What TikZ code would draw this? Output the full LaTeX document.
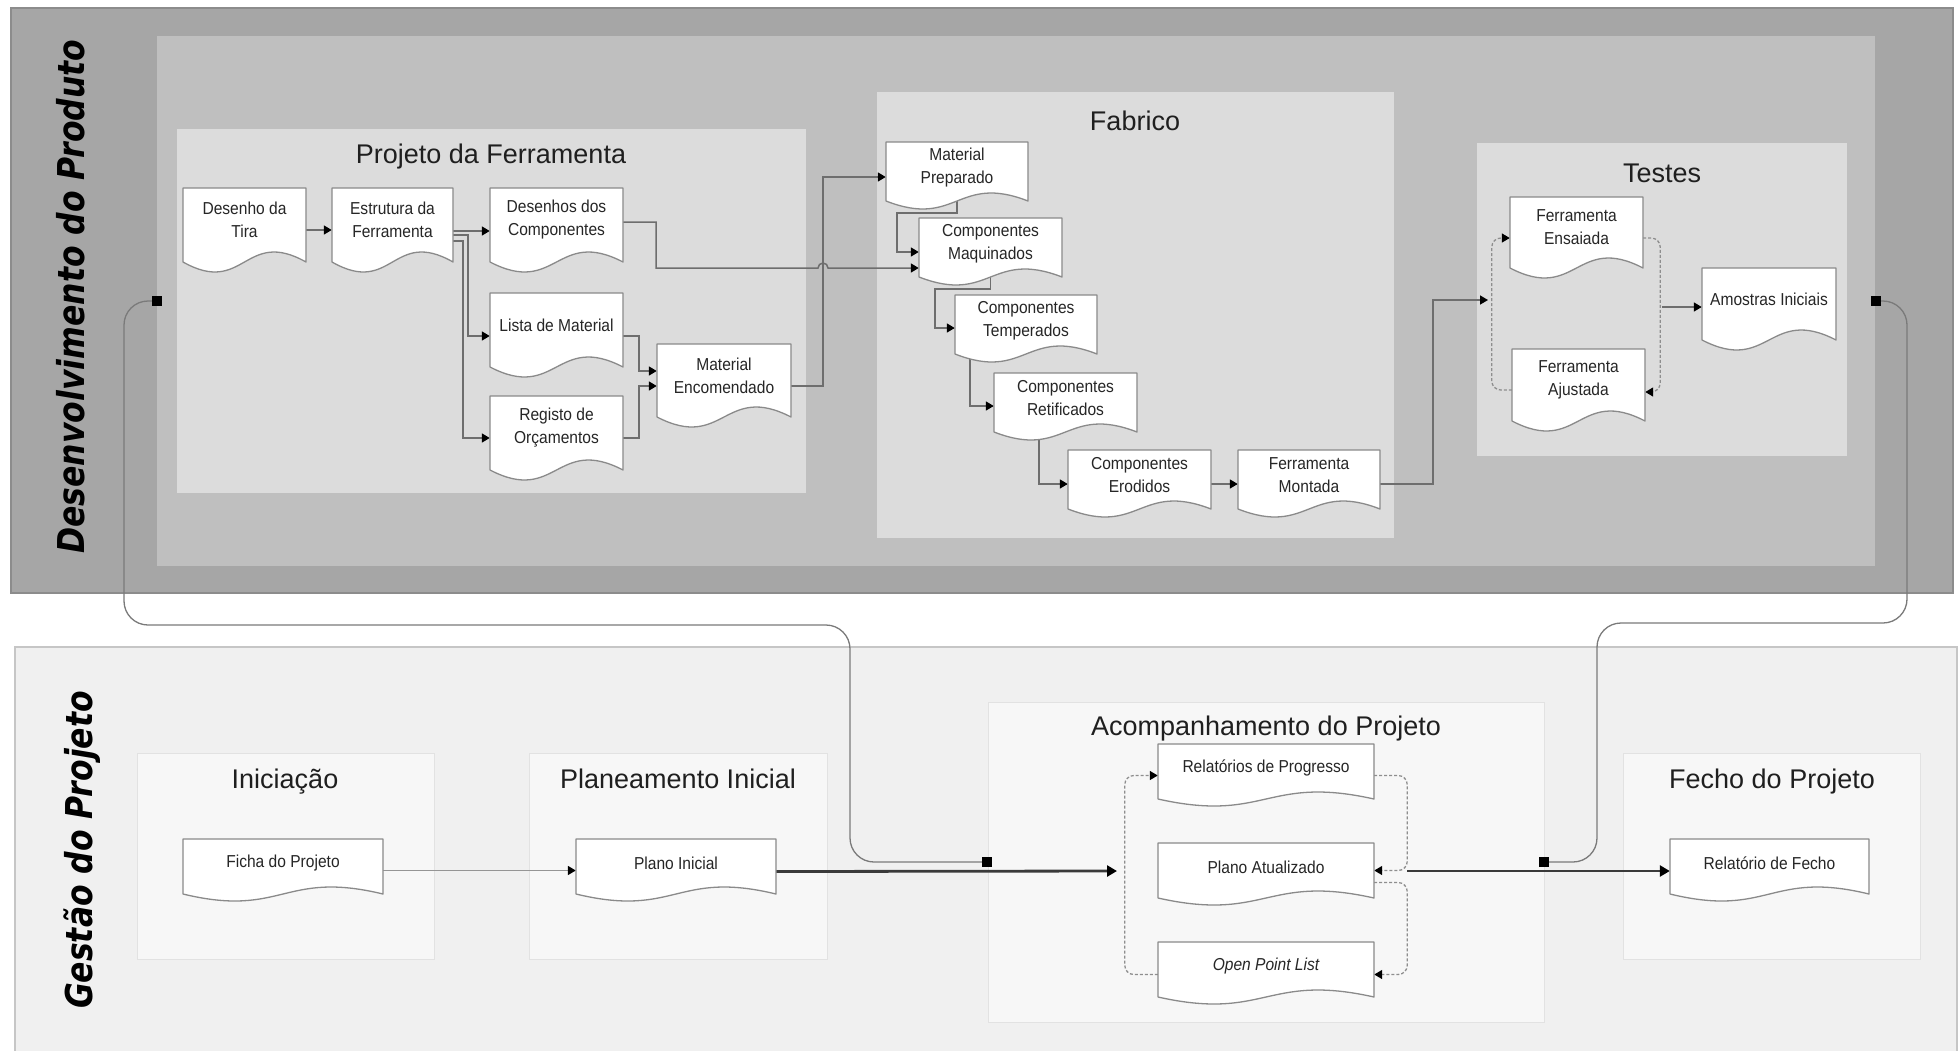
\documentclass[tikz,border=0pt]{standalone}
\usepackage{fontspec}
\setmainfont{Liberation Sans}
\newfontfamily\docfont[FakeStretch=0.9]{Liberation Sans}
\newfontfamily\lanefont[FakeStretch=0.85]{DejaVu Sans}
\usetikzlibrary{arrows.meta,calc}

\pgfdeclarelayer{bg}
\pgfdeclarelayer{conn}
\pgfsetlayers{bg,conn,main}

\definecolor{laneDark}{HTML}{A6A6A6}
\definecolor{laneDarkBorder}{HTML}{8C8C8C}
\definecolor{laneMid}{HTML}{BFBFBF}
\definecolor{groupFill}{HTML}{DCDCDC}
\definecolor{laneLight}{HTML}{F0F0F0}
\definecolor{laneLightBorder}{HTML}{C6C6C6}
\definecolor{phaseFill}{HTML}{F7F7F7}
\definecolor{phaseBorder}{HTML}{E2E2E2}
\definecolor{docBorder}{HTML}{8A8A8A}
\definecolor{connGray}{HTML}{6E6E6E}
\definecolor{dashGray}{HTML}{8E8E8E}
\definecolor{linkGray}{HTML}{7A7A7A}
\definecolor{thickGray}{HTML}{3A3A3A}

\tikzset{
  tip/.style={-{Triangle[length=8pt,width=9pt,color=black]}},
  bigtip/.style={-{Triangle[length=10pt,width=11pt,color=black]}},
  doctext/.style={inner sep=0pt, align=center, text=black!85,
    font=\docfont\fontsize{17.3}{23}\selectfont},
  docline/.style={draw=docBorder, line width=1.3pt, fill=white, line join=round},
  flow/.style={draw=connGray, line width=1.5pt, tip},
  thinflow/.style={draw=linkGray!80, line width=1.6pt, tip},
  thickflow/.style={draw=thickGray, line width=2.8pt, bigtip},
  cycleflow/.style={draw=dashGray, line width=1.3pt, dash pattern=on 3pt off 2pt,
    rounded corners=9pt, tip},
  link/.style={draw=linkGray, line width=1.3pt},
  title/.style={anchor=base, inner sep=0pt, text=black!88,
    font=\fontsize{27}{32}\selectfont},
  lanelabel/.style={rotate=90, anchor=base, inner sep=0pt, text=black,
    font=\lanefont\fontsize{37}{40}\selectfont\bfseries\itshape},
  marker/.style={fill=black, draw=none, minimum size=10pt, inner sep=0pt},
}

% document symbol: name, left, top, width, side height, wave amplitude, text
\newcommand\docshape[7]{%
  \draw[docline] (#2,#3) -- ({#2+#4},#3) -- ({#2+#4},{#3+#5})
    .. controls ({#2+0.5*#4},{#3+#5-3.46*#6}) and ({#2+0.5*#4},{#3+#5+3.46*#6})
    .. (#2,{#3+#5}) -- cycle;
  \node[doctext, minimum width=#4pt, minimum height={#5pt-#6pt}] (#1)
    at ({#2+0.5*#4},{#3+0.5*(#5-#6)}) {#7};
}

\begin{document}
\begin{tikzpicture}[x=1pt,y=-1pt]
\useasboundingbox (0,0) rectangle (1959,1050);

% ---------- lanes and phase containers ----------
\begin{pgfonlayer}{bg}
  \draw[fill=laneDark, draw=laneDarkBorder, line width=1.5pt] (11,8) rectangle (1953,593);
  \fill[laneMid] (157,36) rectangle (1875,566);
  \fill[groupFill] (177,129) rectangle (806,493);
  \fill[groupFill] (877,92) rectangle (1394,538);
  \fill[groupFill] (1477,143) rectangle (1847,456);

  \draw[fill=laneLight, draw=laneLightBorder, line width=1.5pt] (15,647) rectangle (1957,1058);
  \draw[fill=phaseFill, draw=phaseBorder, line width=1pt] (137,753) rectangle (434,959);
  \draw[fill=phaseFill, draw=phaseBorder, line width=1pt] (529,753) rectangle (827,959);
  \draw[fill=phaseFill, draw=phaseBorder, line width=1pt] (988,702) rectangle (1544,1022);
  \draw[fill=phaseFill, draw=phaseBorder, line width=1pt] (1623,753) rectangle (1920,959);
\end{pgfonlayer}

% ---------- lane labels ----------
\node[lanelabel] (laneDev) at (84,296.5) {Desenvolvimento do Produto};
\node[lanelabel] (laneGest) at (92,850) {Gestão do Projeto};

% ---------- phase titles ----------
\node[title] (tProj) at (491,163) {Projeto da Ferramenta};
\node[title] (tFab) at (1135,130) {Fabrico};
\node[title] (tTest) at (1662,182) {Testes};
\node[title] (tIni) at (285,788) {Iniciação};
\node[title] (tPlan) at (678,788) {Planeamento Inicial};
\node[title] (tAcomp) at (1266,735) {Acompanhamento do Projeto};
\node[title] (tFecho) at (1772,788) {Fecho do Projeto};

% ---------- documents: Projeto da Ferramenta ----------
\docshape{tira}{183}{188}{123}{74}{10}{Desenho da\\Tira}
\docshape{estrutura}{332}{188}{121}{74}{10}{Estrutura da\\Ferramenta}
\docshape{desenhos}{490}{188}{133}{74}{10}{Desenhos dos\\Componentes}
\docshape{lista}{490}{293}{133}{74}{10}{Lista de Material}
\docshape{registo}{490}{396}{133}{74}{10}{Registo de\\Orçamentos}
\docshape{encomendado}{657}{344}{134}{73}{10}{Material\\Encomendado}

% ---------- documents: Fabrico ----------
\docshape{preparado}{886}{142}{142}{59}{8}{Material\\Preparado}
\docshape{maquinados}{919}{218}{143}{59}{8}{Componentes\\Maquinados}
\docshape{temperados}{955}{295}{142}{59}{8}{Componentes\\Temperados}
\docshape{retificados}{994}{373}{143}{59}{8}{Componentes\\Retificados}
\docshape{erodidos}{1068}{450}{143}{59}{8}{Componentes\\Erodidos}
\docshape{montada}{1238}{450}{142}{59}{8}{Ferramenta\\Montada}

% ---------- documents: Testes ----------
\docshape{ensaiada}{1510}{197}{133}{71}{10}{Ferramenta\\Ensaiada}
\docshape{ajustada}{1512}{349}{133}{72}{10}{Ferramenta\\Ajustada}
\docshape{amostras}{1702}{268}{134}{72}{10}{Amostras Iniciais}

% ---------- documents: Gestão do Projeto ----------
\docshape{ficha}{183}{839}{200}{55}{7}{Ficha do Projeto}
\docshape{planoini}{576}{839}{200}{55}{7}{Plano Inicial}
\docshape{relatorios}{1158}{744}{216}{55}{7}{Relatórios de Progresso}
\docshape{atualizado}{1158}{843}{216}{55}{7}{Plano Atualizado}
\docshape{opl}{1158}{942}{216}{55}{7}{\itshape Open Point List}
\docshape{fecho}{1670}{839}{199}{55}{7}{Relatório de Fecho}

% ---------- lane link markers ----------
\node[marker] (sqTL) at (157,301) {};
\node[marker] (sqTR) at (1876,301) {};
\node[marker] (sqBL) at (987,862) {};
\node[marker] (sqBR) at (1544,862) {};

% free ends on the review loops
\coordinate (testin) at (1488,300);
\coordinate (testout) at (1662,307);
\coordinate (acompin) at (1117,871);
\coordinate (acompout) at (1407,871);

% ---------- connectors ----------
\begin{pgfonlayer}{conn}
  % Projeto da Ferramenta
  \draw[flow] ([yshift=-10pt]tira.east) -- ([yshift=-10pt]estrutura.west);
  \draw[flow] ([yshift=-11pt]estrutura.east) -- ([yshift=-11pt]desenhos.west);
  \draw[flow] ([yshift=-15pt]estrutura.east) -- ++(15,0) |- ([yshift=-11pt]lista.west);
  \draw[flow] ([yshift=-21pt]estrutura.east) -- ++(10,0) |- ([yshift=-10pt]registo.west);
  \draw[flow] ([yshift=-11pt]lista.east) -- ++(16,0) |- ([yshift=4.5pt]encomendado.west);
  \draw[flow] ([yshift=-10pt]registo.east) -- ++(16,0) |- ([yshift=-10.5pt]encomendado.west);
  \draw[flow] ([yshift=-10.5pt]encomendado.east) -- ++(32,0) |- ([yshift=-9.5pt]preparado.west);
  \draw[flow] ([yshift=-2pt]desenhos.east) -- ++(33,0) |- (818,268)
    arc[start angle=180, end angle=0, radius=5pt] -- ([yshift=-24.5pt]maquinados.west);

  % Fabrico
  \draw[flow] (preparado.center) |- (897,213) |- ([yshift=-8.5pt]maquinados.west);
  \draw[flow] (maquinados.center) |- (935,289) |- ([yshift=-7.5pt]temperados.west);
  \draw[flow] ([xshift=15pt]temperados.west) |- ([yshift=-7.5pt]retificados.west);
  \draw[flow] ([xshift=45pt]retificados.west) |- ([yshift=-8.5pt]erodidos.west);
  \draw[flow] ([yshift=-8.5pt]erodidos.east) -- ([yshift=-8.5pt]montada.west);
  \draw[flow] ([yshift=-8.5pt]montada.east) -- ++(53,0) |- (testin);

  % Testes
  \draw[cycleflow] ([yshift=-10pt]ajustada.west) -- ++(-20,0) |- ([yshift=-10.5pt]ensaiada.west);
  \draw[cycleflow] ([yshift=-10.5pt]ensaiada.east) -- ++(17,0) |- ([yshift=-12pt]ajustada.east);
  \draw[flow] (testout) -- ([yshift=-8pt]amostras.west);

  % Gestão do Projeto
  \draw[thinflow] ([yshift=-7.5pt]ficha.east) -- ([yshift=-7.5pt]planoini.west);
  \draw[thickflow] ([yshift=-8.5pt]planoini.east) -- (acompin);
  \draw[thickflow] (acompout) -- ([yshift=-8pt]fecho.west);
  \draw[cycleflow] ([yshift=-8.5pt]opl.west) -- ++(-33,0) |- ([yshift=-7.5pt]relatorios.west);
  \draw[cycleflow] ([yshift=-7.5pt]relatorios.east) -- ++(33,0) |- ([yshift=-3.5pt]atualizado.east);
  \draw[cycleflow] ([yshift=-15.5pt]atualizado.east) -- ++(33,0) |- ([yshift=-8.5pt]opl.east);

  % links between the two lanes
  \draw[link, rounded corners=24pt] (sqTL) -- (124,301) -- (124,625) -- (850,625) -- (850,862) -- (sqBL);
  \draw[link, rounded corners=24pt] (sqTR) -- (1907,301) -- (1907,623) -- (1597,623) -- (1597,862) -- (sqBR);
\end{pgfonlayer}
\end{tikzpicture}
\end{document}
